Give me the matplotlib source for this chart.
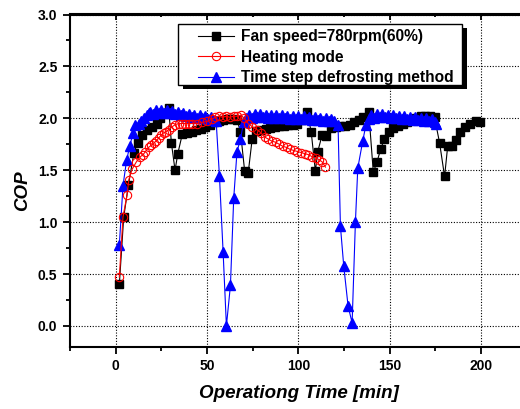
import matplotlib
matplotlib.use("Agg")
import matplotlib.pyplot as plt
from matplotlib.ticker import MultipleLocator
from matplotlib.patches import Rectangle

plt.rcParams['font.family'] = ['Liberation Sans', 'DejaVu Sans']
plt.rcParams['font.weight'] = 'bold'

# Fan speed = 780rpm (60%)
fan_x = [2, 4.4, 7, 10, 12, 14.4, 17, 20, 22.5, 24.5, 27, 29, 30.5, 32.5, 34, 36.5, 39, 41.5, 44, 46.5,
         49, 51.5, 54, 56.5, 59, 61.5, 64, 66.5, 68.3, 70.6, 72.5, 74.7, 77, 79.5, 82, 84.5, 87, 89.5, 92, 94.5,
         97, 99.5, 102, 104.8, 107, 109.3, 110.6, 113, 115, 118, 120.5, 123, 125.5, 128, 130.5, 133, 135.5, 138.5, 141, 143,
         145, 147, 149.5, 152, 154.5, 157, 159.5, 162, 164.5, 167, 169.5, 172, 174.5, 177.3, 180, 181.7, 184, 186, 188.7, 191.4,
         194, 197, 199.6]
fan_y = [0.40, 1.05, 1.36, 1.67, 1.76, 1.84, 1.89, 1.92, 1.95, 2.00, 2.05, 2.10, 1.76, 1.50, 1.66, 1.85, 1.86, 1.87, 1.89, 1.90,
         1.92, 1.94, 1.96, 1.97, 1.98, 1.99, 1.99, 1.98, 1.87, 1.49, 1.47, 1.80, 1.88, 1.89, 1.90, 1.91, 1.92, 1.93, 1.93, 1.94,
         1.94, 1.95, 1.98, 2.06, 1.87, 1.49, 1.68, 1.84, 1.83, 1.91, 1.92, 1.93, 1.93, 1.94, 1.96, 1.98, 2.01, 2.06, 1.48, 1.58,
         1.70, 1.80, 1.87, 1.91, 1.93, 1.95, 1.96, 1.98, 2.00, 2.02, 2.02, 2.02, 2.01, 1.76, 1.44, 1.73, 1.73, 1.79, 1.87, 1.92,
         1.95, 1.97, 1.96]

# Heating mode
heat_x = [2, 4, 6.2, 7.2, 9, 11.3, 13.5, 15, 16.3, 18, 19.5, 20.8, 22, 23.5, 25, 26.3, 27.5, 29, 31, 32.7,
          34.5, 36.3, 38, 40, 42, 44.5, 47, 50, 52.5, 54.5, 56.5, 58.5, 60.5, 62.5, 64.5, 66.5, 68.5, 70.5, 72.5, 74.7,
          77.4, 79.5, 81.5, 83.5, 85.5, 87.5, 89.5, 91.5, 93.5, 95.5, 97.5, 99.5, 101.5, 103.5, 105.5, 107.5, 109.5, 111.5, 113, 114.8]
heat_y = [0.47, 1.05, 1.26, 1.41, 1.51, 1.58, 1.63, 1.65, 1.68, 1.72, 1.74, 1.76, 1.78, 1.81, 1.84, 1.86, 1.87, 1.89, 1.92, 1.94,
          1.95, 1.95, 1.95, 1.95, 1.95, 1.95, 1.96, 1.97, 1.99, 2.01, 2.02, 2.01, 2.02, 2.01, 2.02, 2.02, 2.03, 2.00, 1.95, 1.92,
          1.89, 1.86, 1.82, 1.80, 1.78, 1.77, 1.75, 1.73, 1.72, 1.70, 1.69, 1.68, 1.67, 1.66, 1.65, 1.63, 1.62, 1.60, 1.58, 1.53]

# Time step defrosting method (segments)
ts_start_x = [2, 4, 6, 7.7, 9.5, 10.8, 12.5, 14, 15.5, 17, 18]
ts_start_y = [0.78, 1.35, 1.60, 1.73, 1.86, 1.94, 1.95, 1.97, 2.00, 2.03, 2.05]
ts_seg1_x = [19, 20.5, 22, 23.5, 25, 26.5, 28, 29.5, 31, 32.5, 34, 35.5, 37, 38.5, 40, 41.5, 43, 44.5, 46, 47.5,
             49, 50.5, 52, 53.5, 55]
ts_seg1_y = [2.06, 2.04, 2.08, 2.05, 2.08, 2.05, 2.08, 2.05, 2.07, 2.04, 2.06, 2.03, 2.05, 2.02, 2.04, 2.01, 2.03, 2.00, 2.03, 2.00,
             2.02, 1.99, 2.01, 1.98, 1.97]
ts_dip1_x = [56.8, 58.8, 60.6, 62.8, 64.6, 66.4, 68.3]
ts_dip1_y = [1.44, 0.71, 0.00, 0.39, 1.23, 1.68, 1.80]
ts_seg2_x = [70, 71.5, 73, 74.5, 76, 77.5, 79, 80.5, 82, 83.5, 85, 86.5, 88, 89.5, 91, 92.5, 94, 95.5, 97, 98.5,
             100, 101.5, 103, 104.5, 106, 107.5, 109, 110.5, 112, 113.5, 115, 116.5, 118, 119.5, 121.7]
ts_seg2_y = [1.96, 2.00, 2.03, 2.00, 2.04, 2.01, 2.04, 2.01, 2.03, 2.00, 2.03, 2.00, 2.03, 2.00, 2.03, 2.00, 2.02, 1.99, 2.02, 1.99,
             2.02, 1.99, 2.02, 1.99, 2.01, 1.98, 2.01, 1.98, 2.00, 1.97, 2.00, 1.97, 1.99, 1.97, 1.94]
ts_dip2_x = [123, 124.8, 127.2, 129.4, 131.2, 132.5, 135.2]
ts_dip2_y = [0.96, 0.58, 0.19, 0.03, 1.00, 1.52, 1.78]
ts_seg3_x = [137, 138.5, 140, 141.5, 143, 144.5, 146, 147.5, 149, 150.5, 152, 153.5, 155, 156.5, 158, 159.5, 161, 162.5, 164, 165.5,
             167, 168.5, 170, 171.5, 173, 174.5, 175.5]
ts_seg3_y = [1.94, 1.99, 2.03, 2.00, 2.04, 2.01, 2.04, 2.01, 2.03, 2.00, 2.03, 2.00, 2.02, 1.99, 2.02, 1.99, 2.01, 1.98, 2.01, 1.98,
             2.00, 1.97, 2.00, 1.97, 1.99, 1.96, 1.95]
ts_x = ts_start_x + ts_seg1_x + ts_dip1_x + ts_seg2_x + ts_dip2_x + ts_seg3_x
ts_y = ts_start_y + ts_seg1_y + ts_dip1_y + ts_seg2_y + ts_dip2_y + ts_seg3_y

labels = ["Fan speed=780rpm(60%)", "Heating mode", "Time step defrosting method"]

W, H = 520, 409
fig = plt.figure(figsize=(W / 100, H / 100), dpi=100)
left_px, right_px, top_px, bot_px = 70, 526.8, 14.5, 346.7
ax = fig.add_axes([left_px / W, (H - bot_px) / H, (right_px - left_px) / W, (bot_px - top_px) / H])

def ax_x(px):
    return (px - left_px) / (right_px - left_px)

def ax_y(py):
    return (bot_px - py) / (bot_px - top_px)

l_fan, = ax.plot(fan_x, fan_y, color='black', lw=0.8, marker='s', ms=5.6, mfc='black', mec='black',
                 label=labels[0], zorder=3)
l_ts, = ax.plot(ts_x, ts_y, color='#0000ff', lw=0.8, marker='^', ms=6.5, mfc='#0000ff', mec='#0000ff',
                label=labels[2], zorder=4)
l_heat, = ax.plot(heat_x, heat_y, color='#ff0000', lw=0.8, marker='o', ms=6, mfc='none', mec='#ff0000', mew=0.8,
                  label=labels[1], zorder=5)

ax.set_xlim(-25, 225)
ax.set_ylim(-0.2, 3.0)
ax.set_xticks([0, 50, 100, 150, 200])
ax.set_xticklabels(['0', '50', '100', '150', '200'])
ax.xaxis.set_minor_locator(MultipleLocator(25))
ax.yaxis.set_major_locator(MultipleLocator(0.5))
ax.yaxis.set_minor_locator(MultipleLocator(0.25))

ax.grid(True, which='major', color='black', linestyle=(0, (1, 1.5)), linewidth=0.8)
ax.set_axisbelow(True)

for s in ['left', 'bottom', 'top', 'right']:
    ax.spines[s].set_linewidth(1.5)

ax.tick_params(axis='both', which='major', direction='out', length=5, width=1.3, labelsize=10, pad=4)
ax.tick_params(axis='both', which='minor', direction='out', length=3, width=1.3)
for lab in ax.get_xticklabels() + ax.get_yticklabels():
    lab.set_fontweight('bold')

sec = ax.secondary_xaxis('top')
sec.set_xticks([0, 50, 100, 150, 200])
sec.xaxis.set_minor_locator(MultipleLocator(25))
sec.tick_params(which='major', direction='in', length=4, width=1.3, labeltop=False)
sec.tick_params(which='minor', direction='in', length=2.5, width=1.3)
sec.spines['top'].set_linewidth(1.5)

ax.set_xlabel('Operationg Time [min]', fontsize=13.5, fontweight='bold', style='italic')
ax.set_ylabel('COP', fontsize=13.5, fontweight='bold', style='italic')
ax.xaxis.set_label_coords(ax_x(299), ax_y(385))
ax.yaxis.set_label_coords(ax_x(31), ax_y(191))

# legend frame with solid shadow
bx0, bx1, by0, by1 = 178, 462, 24, 85
shadow = Rectangle((ax_x(bx0 + 5), ax_y(by1 + 4)), ax_x(bx1 + 5) - ax_x(bx0 + 5), ax_y(by0 + 4) - ax_y(by1 + 4),
                   transform=ax.transAxes, facecolor='black', edgecolor='black', lw=0, zorder=6, clip_on=False)
frame = Rectangle((ax_x(bx0), ax_y(by1)), ax_x(bx1) - ax_x(bx0), ax_y(by0) - ax_y(by1),
                  transform=ax.transAxes, facecolor='white', edgecolor='black', lw=1.0, zorder=7, clip_on=False)
ax.add_patch(shadow)
ax.add_patch(frame)

leg = ax.legend([l_fan, l_heat, l_ts], labels,
                loc='upper left', bbox_to_anchor=(ax_x(198), ax_y(29)),
                borderaxespad=0, borderpad=0, frameon=False,
                prop={'size': 11.2, 'weight': 'bold'}, handlelength=2.3, handletextpad=0.45,
                labelspacing=0.36, numpoints=1)
leg.set_zorder(8)

fig.savefig('out.png', dpi=100)
